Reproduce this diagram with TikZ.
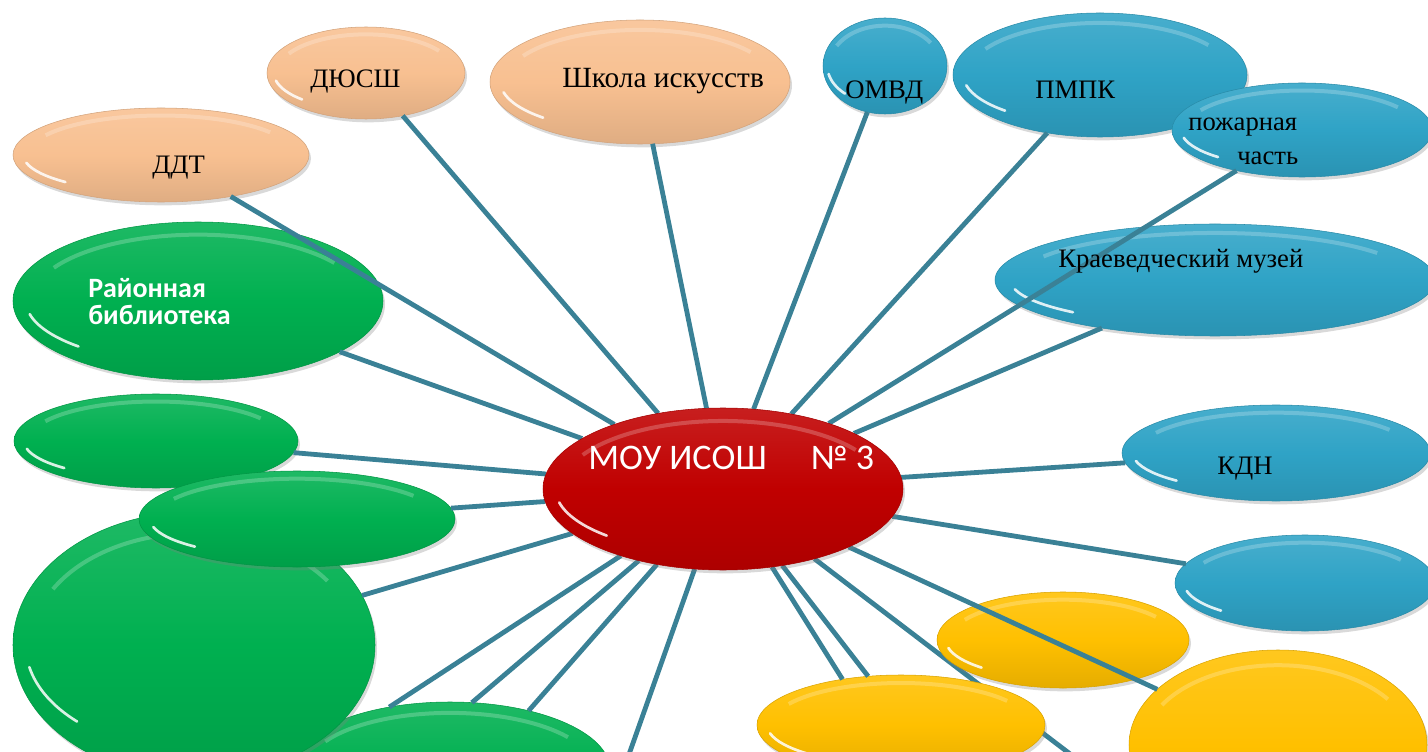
\documentclass[tikz,border=0pt]{standalone}
\usepackage{fontspec}
\setmainfont{Liberation Serif}
\newfontfamily\calibri{Carlito}
\usetikzlibrary{shapes.geometric,shadows,calc}

\definecolor{peach}{RGB}{248,192,145}
\definecolor{sky}{RGB}{47,163,198}
\definecolor{leaf}{RGB}{0,176,80}
\definecolor{ruby}{RGB}{192,0,0}
\definecolor{amber}{RGB}{255,192,0}
\definecolor{wire}{RGB}{58,129,150}

\pgfdeclarelayer{back}
\pgfdeclarelayer{front}
\pgfsetlayers{back,main,front}

\begin{document}
\begin{tikzpicture}[x=0.75pt,y=-0.75pt,
  rad/.style 2 args={minimum width=#1*1.5pt, minimum height=#2*1.5pt},
  bubble/.style={ellipse, inner sep=0pt, outer sep=0pt, draw=#1!85!black, line width=0.4pt,
    top color=#1!88!white, bottom color=#1!90!black, middle color=#1,
    drop shadow={shadow xshift=1.5pt, shadow yshift=-2.5pt, opacity=0.3},
    path picture={
      \coordinate (pc) at (path picture bounding box.center);
      \coordinate (pne) at (path picture bounding box.north east);
      \draw[white, opacity=0.85, line width=2pt, line cap=round]
        let \p1=($(pne)-(pc)$), \n1={0.93*\x1}, \n2={0.80*\y1} in
        ($(pc)+(192:\n1 and \n2)$) arc[start angle=192, end angle=226, x radius=\n1, y radius=\n2];
      \draw[white, opacity=0.22, line width=3pt]
        let \p1=($(pne)-(pc)$), \n1={0.90*\x1}, \n2={0.84*\y1} in
        ($(pc)+(35:\n1 and \n2)$) arc[start angle=35, end angle=150, x radius=\n1, y radius=\n2];
    }},
  wire/.style={draw=wire, line width=3.6pt},
  lbl/.style={anchor=base west, inner sep=0pt, font=\fontsize{20}{24}\selectfont},
  wlbl/.style={anchor=base west, inner sep=0pt, text=white, font=\calibri\bfseries\fontsize{21}{24}\selectfont}]
\useasboundingbox (0,0) rectangle (1428,752);

\begin{pgfonlayer}{front}
\node[bubble=ruby, rad={180}{81}] (moy) at (723,489) {};
\node[anchor=base west, inner sep=0pt, text=white, font=\calibri\fontsize{27}{30}\selectfont] (tmoy) at (588,469) {МОУ ИСОШ\hspace{33pt}№ 3};
\end{pgfonlayer}

\node[bubble=peach, rad={148}{47}] (ddt) at (161,155) {};
\node[bubble=peach, rad={99}{46}] (dyussh) at (366,73) {};
\node[bubble=peach, rad={150}{62}] (shkola) at (640,82) {};

\node[bubble=sky, rad={62}{48}] (omvd) at (885,66) {};
\node[bubble=sky, rad={147}{62}] (pmpk) at (1100,75) {};
\node[bubble=sky, rad={130}{47}] (pozh) at (1302,130) {};
\node[bubble=sky, rad={220}{56}] (kraev) at (1215,280) {};
\node[bubble=sky, rad={154}{48}] (kdn) at (1276,453) {};
\node[bubble=sky, rad={130}{48}] (bluea) at (1305,583) {};

\node[bubble=amber, rad={126}{48}] (yela) at (1063,640) {};
\node[bubble=amber, rad={149}{95}] (yelb) at (1278,745) {};
\node[bubble=amber, rad={144}{50}] (yelc) at (901,725) {};

\node[bubble=leaf, rad={185}{79}] (lib) at (198,301) {};
\node[bubble=leaf, rad={142}{47}] (greena) at (156,441) {};
\node[bubble=leaf, rad={160}{68}] (greend) at (450,770) {};
\node[bubble=leaf, rad={181}{133}] (greenc) at (194,645) {};
\node[bubble=leaf, rad={158}{48}] (greenb) at (297,519) {};

\coordinate (offl) at (627,760);
\coordinate (offr) at (1078,760);

\begin{pgfonlayer}{back}
\draw[wire] (moy) -- (offr);
\end{pgfonlayer}

\draw[wire] (moy) -- (ddt);
\draw[wire] (moy) -- (dyussh);
\draw[wire] (moy) -- (shkola);
\draw[wire] (moy) -- (omvd);
\draw[wire] (moy) -- (pmpk);
\draw[wire] (moy) -- (pozh);
\draw[wire] (moy) -- (kraev);
\draw[wire] (moy) -- (kdn);
\draw[wire] (moy) -- (bluea);
\draw[wire] (moy) -- (yelb);
\draw[wire] (moy) -- (yelc.142);
\draw[wire] (moy) -- (yelc.124);
\draw[wire] (moy) -- (offl);
\draw[wire] (moy) -- (greend.37);
\draw[wire] (moy) -- (greend.72);
\draw[wire] (moy) -- (greend.134);
\draw[wire] (moy) -- (greenc);
\draw[wire] (moy) -- (greenb);
\draw[wire] (moy) -- (greena);
\draw[wire] (moy) -- (lib);

\begin{pgfonlayer}{front}
\node[lbl] (tddt) at (152,174) {ДДТ};
\node[lbl] (tdyussh) at (310,88) {ДЮСШ};
\node[lbl, font=\fontsize{22}{24}\selectfont] (tshkola) at (562,88) {Школа искусств};
\node[lbl] (tomvd) at (845,99) {ОМВД};
\node[lbl] (tpmpk) at (1035,99) {ПМПК};
\node[lbl] (tpozha) at (1188,131) {пожарная};
\node[lbl] (tpozhb) at (1237,165) {часть};
\node[lbl] (tkraev) at (1058,268) {Краеведческий музей};
\node[lbl] (tkdn) at (1217,474) {КДН};
\node[wlbl] (tliba) at (88,298) {Районная};
\node[wlbl] (tlibb) at (88,325) {библиотека};
\end{pgfonlayer}
\end{tikzpicture}
\end{document}
